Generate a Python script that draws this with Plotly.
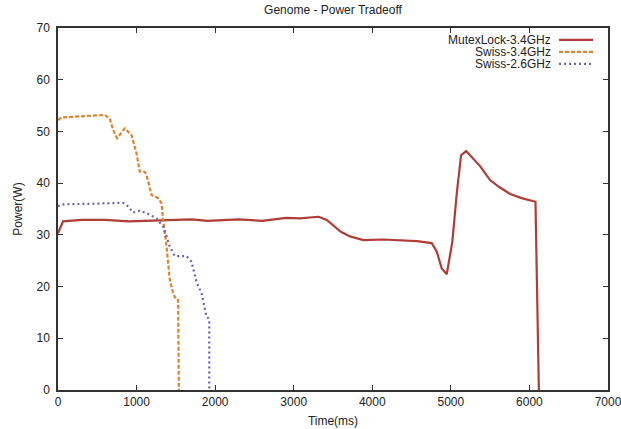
import plotly.graph_objects as go

# MutexLock-3.4GHz
mutex_t = [0, 64, 300, 600, 900, 1200, 1500, 1700, 1900, 2100, 2300, 2600, 2900, 3080,
           3316, 3420, 3600, 3716, 3886, 4140, 4353, 4566, 4757, 4820, 4884, 4948,
           5019, 5075, 5130, 5194, 5372, 5499, 5620, 5755, 5900, 6052, 6077, 6120]
mutex_p = [30.3, 32.6, 32.9, 32.9, 32.6, 32.7, 32.8, 33.0, 32.7, 32.9, 33.0, 32.7, 33.3, 33.2,
           33.5, 32.9, 30.6, 29.7, 29.0, 29.1, 29.0, 28.8, 28.4, 26.8, 23.5, 22.4,
           28.7, 38.0, 45.4, 46.2, 43.3, 40.6, 39.2, 37.9, 37.1, 36.4, 36.4, 0.0]

# Swiss-3.4GHz
swiss34_t = [0, 43, 276, 595, 659, 701, 752, 850, 935, 999, 1041, 1104, 1126, 1190,
             1274, 1317, 1338, 1381, 1423, 1465, 1508, 1529, 1538]
swiss34_p = [52.2, 52.7, 52.9, 53.2, 52.5, 50.3, 48.7, 50.6, 49.3, 45.8, 42.2, 42.2, 41.6, 37.7,
             37.1, 36.1, 32.9, 27.7, 21.3, 18.7, 17.4, 17.4, 0.0]

# Swiss-2.6GHz
swiss26_t = [0, 43, 404, 828, 892, 955, 1041, 1126, 1253, 1338, 1381, 1423, 1487, 1635,
             1699, 1763, 1827, 1890, 1911, 1925, 1925]
swiss26_p = [35.5, 35.9, 36.0, 36.2, 35.5, 34.3, 34.7, 34.2, 33.2, 31.6, 29.7, 27.7, 25.9, 25.9,
             24.8, 20.9, 18.7, 14.2, 13.9, 13.5, 0.0]

x_ticks = [0, 1000, 2000, 3000, 4000, 5000, 6000, 7000]
y_ticks = [0, 10, 20, 30, 40, 50, 60, 70]

series = [
    ("MutexLock-3.4GHz", mutex_t, mutex_p, "#b03c37", "solid"),
    ("Swiss-3.4GHz", swiss34_t, swiss34_p, "#e0822e", "4px,2px"),
    ("Swiss-2.6GHz", swiss26_t, swiss26_p, "#7060a8", "2px,3px"),
]

FONT = "Liberation Sans, Arial, sans-serif"
TXT = "#222"

fig = go.Figure()
for name, t, p, color, dash in series:
    fig.add_trace(go.Scatter(
        x=t, y=p, mode="lines", name=name,
        line=dict(color=color, width=2.2, dash=dash),
        showlegend=False
    ))

# gnuplot-style legend: right-aligned text with line sample on the right
legend_y = [0.967, 0.934, 0.901]
for (name, t, p, color, dash), ly in zip(series, legend_y):
    fig.add_annotation(
        x=0.898, y=ly, xref="paper", yref="paper", text=name,
        showarrow=False, xanchor="right", yanchor="middle",
        height=11, valign="middle", borderpad=0,
        font=dict(family=FONT, size=12, color=TXT)
    )
    fig.add_shape(
        type="line", xref="paper", yref="paper",
        x0=0.911, x1=0.973, y0=ly, y1=ly,
        line=dict(color=color, width=2.2, dash=dash)
    )

axis_common = dict(
    showgrid=False, zeroline=False, automargin=False,
    showline=True, linecolor="#333", linewidth=1.5, mirror="ticks",
    ticks="inside", ticklen=5, tickcolor="#333", tickwidth=1,
    tickfont=dict(family=FONT, size=12, color=TXT),
    ticklabeloverflow="allow",
)

fig.update_xaxes(range=[0, 7000], tickvals=x_ticks, **axis_common,
                 title=dict(text="Time(ms)", font=dict(family=FONT, size=12, color=TXT), standoff=8))
fig.update_yaxes(range=[0, 70], tickvals=y_ticks, ticklabelstandoff=4, **axis_common,
                 title=dict(text="Power(W)", font=dict(family=FONT, size=12, color=TXT), standoff=11))

fig.update_layout(
    width=621, height=429,
    margin=dict(l=58, r=13, t=28, b=39),
    paper_bgcolor="white", plot_bgcolor="white",
    title=dict(text="Genome - Power Tradeoff", x=0.5, xanchor="center",
               xref="paper", y=0.977, yref="container", yanchor="middle",
               font=dict(family=FONT, size=12, color=TXT)),
    showlegend=False,
)

fig.write_html("out.html", config={"displayModeBar": False},
               post_script="document.body.style.margin='0';")
